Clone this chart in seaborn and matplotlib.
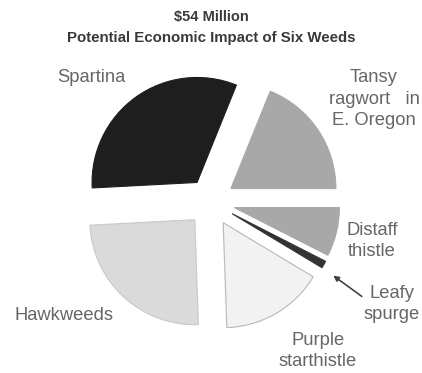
import matplotlib
matplotlib.use("Agg")
import matplotlib.pyplot as plt
import seaborn as sns

# data ($ million; total $54 million)
weeds = ["Spartina", "Tansy ragwort in E. Oregon", "Distaff thistle",
         "Leafy spurge", "Purple starthistle", "Hawkweeds"]
impact = [17.25, 10.2, 4.05, 0.6, 8.55, 13.35]
shades = ["#1e1e1e", "#a8a8a8", "#a8a8a8", "#333333", "#f2f2f2", "#dadada"]
edges = ["#1e1e1e", "#a8a8a8", "#a8a8a8", "#333333", "#b8b8b8", "#c8c8c8"]

sns.set_theme(style="white")
plt.rcParams["font.family"] = ["Liberation Sans", "DejaVu Sans"]

W, H = 422, 373
fig = plt.figure(figsize=(W / 100, H / 100), dpi=100)
ax = fig.add_axes([0, 0, 1, 1])

wedges, _ = ax.pie(impact, colors=shades, startangle=183, counterclock=False,
                   radius=105, center=(211, H - 202),
                   explode=[24] * len(impact))
for w, ec in zip(wedges, edges):
    w.set_edgecolor(ec)
    w.set_linewidth(0.8)

ax.set_xlim(0, W)
ax.set_ylim(0, H)
ax.set_aspect("equal")
ax.axis("off")

# title
fig.text(0.5, 1 - 17 / H, "$54 Million", ha="center", va="center",
         fontsize=10.5, fontweight="bold", color="#3a3a3a")
fig.text(0.5, 1 - 38 / H, "Potential Economic Impact of Six Weeds",
         ha="center", va="center", fontsize=10.8, fontweight="bold",
         color="#3a3a3a")

# labels
lab = dict(fontsize=13.2, color="#666666", va="center", linespacing=1.35)
ax.text(57, H - 77, "Spartina", ha="left", **lab)
ax.text(374, H - 99, "Tansy\nragwort   in\nE. Oregon", ha="center", **lab)
ax.text(372, H - 241, "Distaff\nthistle", ha="center", **lab)
ax.text(392, H - 304, "Leafy\nspurge", ha="center", **lab)
ax.text(14, H - 315, "Hawkweeds", ha="left", **lab)
ax.text(318, H - 351, "Purple\nstarthistle", ha="center", **lab)
ax.annotate("", xy=(331, H - 274), xytext=(364, H - 298),
            arrowprops=dict(arrowstyle="-|>", color="#444444", lw=1.2,
                            mutation_scale=8))

fig.savefig("out.png", dpi=100)
